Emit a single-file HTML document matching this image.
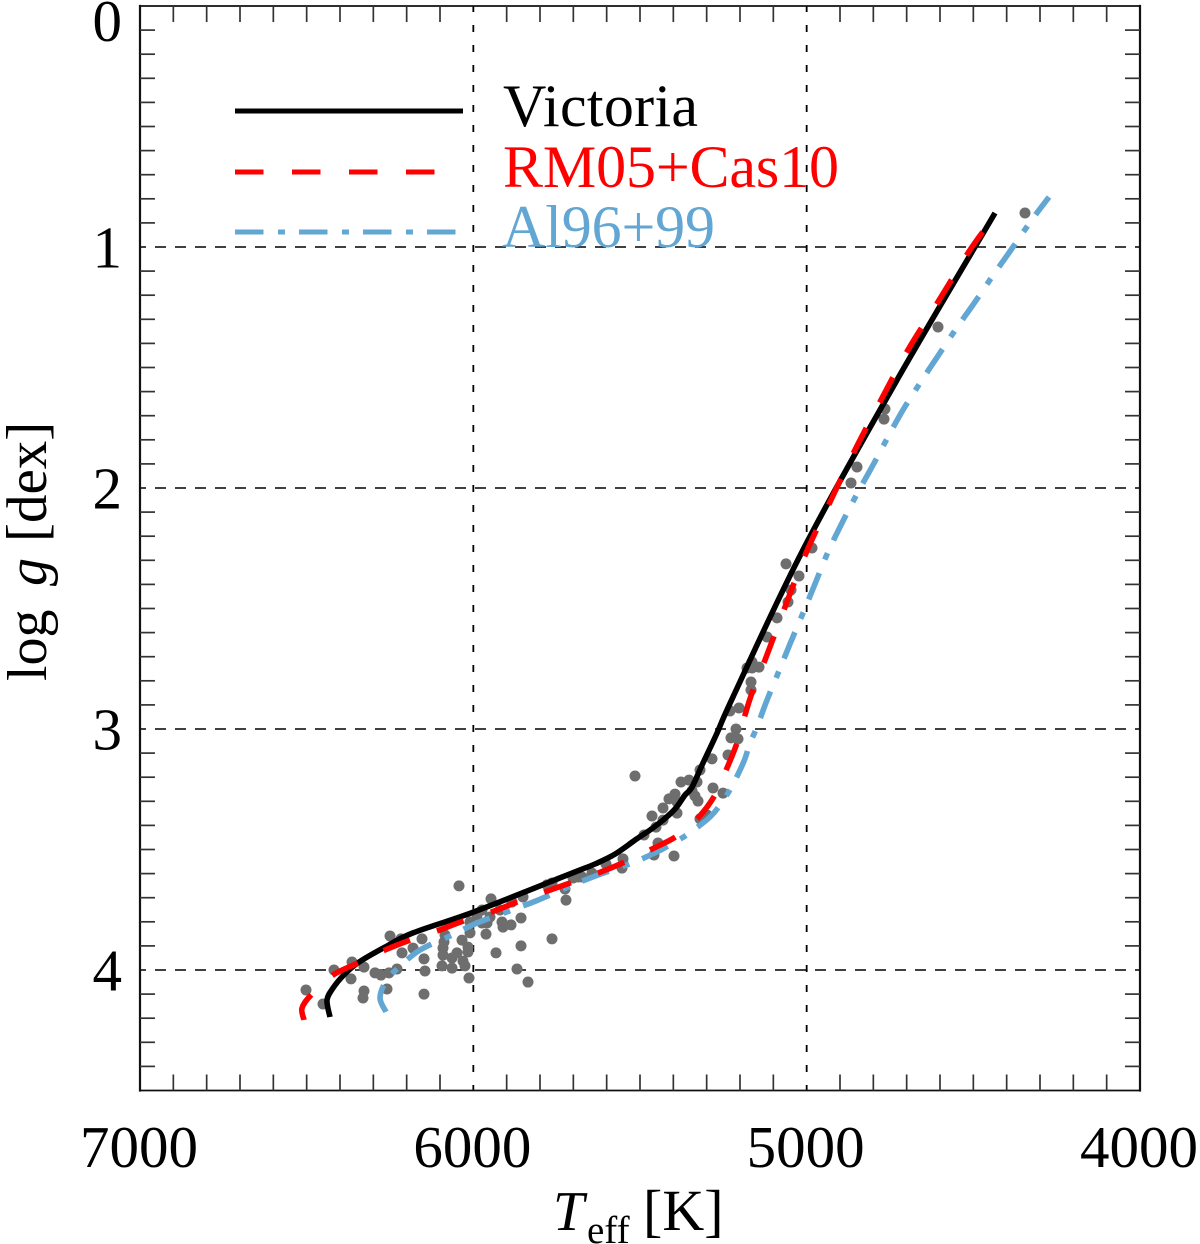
<!DOCTYPE html>
<html><head><meta charset="utf-8"><title>log g vs Teff</title>
<style>html,body{margin:0;padding:0;background:#fff;width:1200px;height:1244px;overflow:hidden}svg{display:block}text{font-family:"Liberation Serif",serif;fill:#000}</style></head>
<body>
<svg id="chart" width="1200" height="1244" viewBox="0 0 1200 1244" xmlns="http://www.w3.org/2000/svg">
<g id="grid"></g>
<g id="dots"></g>
<g id="lines"></g>
<g id="frame"></g>
<g id="labels"></g>
<g>
<line x1="235" x2="463" y1="111" y2="111" stroke="#000" stroke-width="5"/>
<text x="503" y="126" font-size="60" textLength="195" lengthAdjust="spacing">Victoria</text>
<line x1="235" x2="463" y1="172" y2="172" stroke="#f00" stroke-width="5" stroke-dasharray="28.5 28.5"/>
<text x="503" y="187" font-size="60" textLength="336" lengthAdjust="spacing" style="fill:#f00">RM05+Cas10</text>
<line x1="235" x2="463" y1="232" y2="232" stroke="#62a6d3" stroke-width="5" stroke-dasharray="28.5 14.5 7 14"/>
<text x="502" y="247" font-size="60" textLength="213" lengthAdjust="spacing" style="fill:#62a6d3">Al96+99</text>
</g>
<g transform="translate(46,681) rotate(-90)" font-size="56">
<text x="0" y="0">log</text><text x="95" y="0" font-style="italic">g</text><text x="139" y="0" font-size="57">[dex]</text>
</g>
<g>
<text x="553" y="1230" font-size="56" font-style="italic">T</text><text x="587" y="1243" font-size="39">eff</text><text x="643" y="1230" font-size="58">[K]</text>
</g>
</svg>
<script>
var xTickLabels = [7000, 6000, 5000, 4000];
var yTickLabels = [0, 1, 2, 3, 4];
var victoriaT = [6430,6439,6421,6388,6346,6265,6181,6001,5740,5680,5635,5575,5515,5470,5431,5395,5365,5344,5311,5269,5221,5011,4729,4435];
var victoriaG = [4.195,4.125,4.075,4.02,3.97,3.905,3.846,3.76,3.618,3.585,3.56,3.519,3.461,3.419,3.378,3.332,3.274,3.241,3.141,3.017,2.867,2.257,1.552,0.859];
var rmT = [6508,6514,6487,6421,6346,6265,6190,6109,6031,5944,5869,5785,5710,5626,5545,5464,5389,5326,5275,5239,5209,5185,5164,5125,5065,5002,4930,4855,4774,4696,4606,4516,4465];
var rmG = [4.207,4.158,4.104,4.021,3.971,3.917,3.876,3.838,3.797,3.759,3.718,3.676,3.639,3.598,3.552,3.498,3.444,3.369,3.274,3.162,3.058,2.942,2.851,2.714,2.494,2.27,2.058,1.842,1.627,1.427,1.228,1.025,0.925];
var alT = [6262,6280,6262,6226,6160,6070,5989,5884,5806,5701,5626,5524,5449,5401,5356,5290,5254,5224,5188,5170,5149,5119,5083,5050,5011,4975,4936,4891,4846,4801,4756,4711,4654,4606,4552,4498,4441,4387,4327,4273];
var alG = [4.174,4.116,4.046,3.992,3.917,3.859,3.805,3.751,3.71,3.647,3.606,3.556,3.51,3.473,3.436,3.365,3.303,3.237,3.133,3.058,2.992,2.88,2.759,2.647,2.519,2.398,2.266,2.137,2.017,1.905,1.788,1.676,1.552,1.452,1.34,1.234,1.118,1.012,0.892,0.793];
var starT = [6502,6451,6418,6364,6367,6328,6295,6277,6253,6229,6328,6331,6259,6250,6217,6214,6181,6154,6148,6145,6148,6094,6064,6091,6091,6088,6085,6064,6049,6034,6016,6016,6031,6025,6013,6043,5947,6010,6010,5989,5974,5974,5959,5962,5950,5932,5914,5911,5887,5884,5920,5851,5857,5857,5869,5836,5764,5722,5779,5764,5725,5701,5686,5674,5644,5602,5554,5551,5458,5446,5398,5488,5452,5431,5464,5431,5413,5395,5389,5389,5515,5377,5353,5329,5344,5335,5326,5320,5284,5281,5251,5299,5320,5236,5227,5206,5212,5230,5203,5179,5164,5164,5143,5167,5167,5119,5089,5056,5047,5023,5062,4984,4867,4849,4768,4765,4606,4345];
var starG = [4.083,4.141,4.0,3.967,4.037,3.988,4.012,4.021,4.012,3.996,4.087,4.116,4.079,3.859,3.871,3.929,3.909,3.871,3.954,4.004,4.1,3.983,3.992,3.938,3.909,3.884,3.855,3.95,3.929,3.876,3.905,3.925,3.963,3.983,4.033,3.651,3.705,3.846,3.801,3.772,3.751,3.805,3.805,3.851,3.78,3.929,3.801,3.822,3.813,3.718,3.751,3.697,3.784,3.9,3.996,4.05,3.871,3.71,3.647,3.639,3.664,3.618,3.614,3.614,3.598,3.56,3.577,3.539,3.523,3.473,3.527,3.44,3.407,3.378,3.361,3.328,3.29,3.27,3.303,3.349,3.195,3.22,3.212,3.22,3.257,3.278,3.299,3.17,3.124,3.245,3.266,3.357,3.373,3.108,3.037,3.041,3,2.925,2.913,2.747,2.722,2.747,2.743,2.805,2.838,2.618,2.539,2.473,2.423,2.365,2.315,2.249,1.979,1.913,1.714,1.672,1.332,0.859];

var NS = 'http://www.w3.org/2000/svg';
var LEFT = 140, RIGHT = 1140, TOP = 6, BOTTOM = 1090.5;
function xScale(t) { return LEFT + (7000 - t) / 3000 * (RIGHT - LEFT); }
function yScale(g) { return TOP + g / 4.5 * (BOTTOM - TOP); }
function make(tag, parent, attrs) {
  var el = document.createElementNS(NS, tag);
  for (var k in attrs) el.setAttribute(k, attrs[k]);
  parent.appendChild(el);
  return el;
}
var grid = document.getElementById('grid');
var dots = document.getElementById('dots');
var lines = document.getElementById('lines');
var frame = document.getElementById('frame');
var labels = document.getElementById('labels');

[6000, 5000].forEach(function (t) {
  var el = make('line', grid, {x1: xScale(t), x2: xScale(t), y1: TOP, y2: BOTTOM, stroke: '#000', 'stroke-width': 1.8, 'stroke-dasharray': '7 13', 'stroke-dashoffset': 1});
  
  
});
[1, 2, 3, 4].forEach(function (g) {
  var el = make('line', grid, {x1: LEFT, x2: RIGHT, y1: yScale(g), y2: yScale(g), stroke: '#000', 'stroke-width': 1.6, 'stroke-dasharray': '11 9', 'stroke-dashoffset': 5});
  
  
});

starT.forEach(function (t, i) {
  var el = make('circle', dots, {cx: xScale(t), cy: yScale(starG[i]), r: 5.5, fill: '#6e6e6e'});
  
  
});

function smoothPath(ts, gs) {
  var p = ts.map(function (t, i) { return [xScale(t), yScale(gs[i])]; });
  var d = 'M' + p[0][0].toFixed(1) + ' ' + p[0][1].toFixed(1);
  for (var i = 0; i < p.length - 1; i++) {
    var a = p[Math.max(i - 1, 0)], b = p[i], c = p[i + 1], e = p[Math.min(i + 2, p.length - 1)];
    var c1x = b[0] + (c[0] - a[0]) / 6, c1y = b[1] + (c[1] - a[1]) / 6;
    var c2x = c[0] - (e[0] - b[0]) / 6, c2y = c[1] - (e[1] - b[1]) / 6;
    d += 'C' + c1x.toFixed(1) + ' ' + c1y.toFixed(1) + ' ' + c2x.toFixed(1) + ' ' + c2y.toFixed(1) + ' ' + c[0].toFixed(1) + ' ' + c[1].toFixed(1);
  }
  return d;
}
function drawSeries(ts, gs, color, dash, name) {
  var el = make('path', lines, {d: smoothPath(ts, gs), fill: 'none', stroke: color, 'stroke-width': 5.6, 'stroke-linejoin': 'round'});
  if (dash) el.setAttribute('stroke-dasharray', dash);
  
  
}
drawSeries(alT, alG, '#62a6d3', '28.5 14.5 7 14', 'series-al96');
drawSeries(victoriaT, victoriaG, '#000', null, 'series-victoria');
drawSeries(rmT, rmG, '#f00', '28.5 28.5', 'series-rm05');

function side(x1, y1, x2, y2, w, name) {
  var el = make('line', frame, {x1: x1, y1: y1, x2: x2, y2: y2, stroke: '#111', 'stroke-width': w, 'stroke-linecap': 'square'});
  
  
}
side(LEFT, TOP, LEFT, BOTTOM, 2.2, 'left-axis-line');
side(RIGHT, TOP, RIGHT, BOTTOM, 2.2, 'right-axis-line');
side(LEFT, TOP, RIGHT, TOP, 1.7, 'top-axis-line');
side(LEFT, BOTTOM, RIGHT, BOTTOM, 1.7, 'bottom-axis-line');
function tick(x1, y1, x2, y2) {
  var el = make('line', frame, {x1: x1, y1: y1, x2: x2, y2: y2, stroke: '#333', 'stroke-width': 1.7});
  
  
}
for (var t = 6900; t > 4000; t -= 100) {
  if (t % 1000 === 0) continue;
  tick(xScale(t), BOTTOM, xScale(t), BOTTOM - 16);
  tick(xScale(t), TOP, xScale(t), TOP + 16);
}
for (var n = 1; n < 45; n++) {
  if (n % 10 === 0) continue;
  tick(LEFT, yScale(n / 10), LEFT + 15, yScale(n / 10));
  tick(RIGHT, yScale(n / 10), RIGHT - 15, yScale(n / 10));
}

xTickLabels.forEach(function (t) {
  var el = make('text', labels, {x: xScale(t) - 1, y: 1167, 'font-size': 59, 'text-anchor': 'middle'});
  el.textContent = t;
  
  
});
yTickLabels.forEach(function (g) {
  var el = make('text', labels, {x: 122, y: g === 0 ? 41 : yScale(g) + 20.5, 'font-size': 59, 'text-anchor': 'end'});
  el.textContent = g;
  
  
});
</script>
</body></html>
